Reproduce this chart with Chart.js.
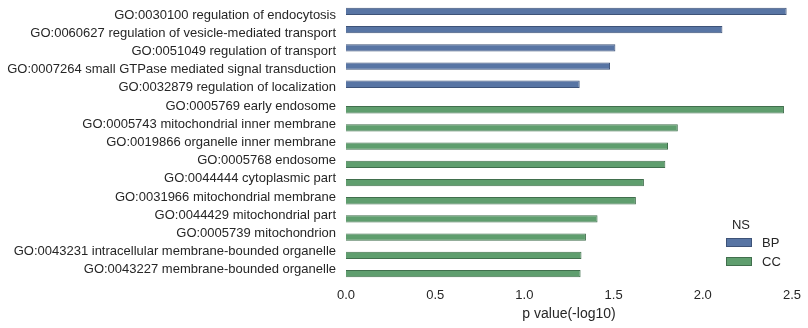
<!DOCTYPE html>
<html>
<head>
<meta charset="utf-8">
<script src="https://cdn.jsdelivr.net/npm/chart.js@4/dist/chart.umd.min.js"></script>
<style>
  html, body { margin: 0; padding: 0; background: #fff; }
  #wrap { width: 808px; height: 328px; }
</style>
</head>
<body>
<div id="wrap"><canvas id="go"></canvas></div>
<script>
// GO terms, top to bottom
const terms = [
    'GO:0030100 regulation of endocytosis',
    'GO:0060627 regulation of vesicle-mediated transport',
    'GO:0051049 regulation of transport',
    'GO:0007264 small GTPase mediated signal transduction',
    'GO:0032879 regulation of localization',
    'GO:0005769 early endosome',
    'GO:0005743 mitochondrial inner membrane',
    'GO:0019866 organelle inner membrane',
    'GO:0005768 endosome',
    'GO:0044444 cytoplasmic part',
    'GO:0031966 mitochondrial membrane',
    'GO:0044429 mitochondrial part',
    'GO:0005739 mitochondrion',
    'GO:0043231 intracellular membrane-bounded organelle',
    'GO:0043227 membrane-bounded organelle'
]

// -log10 p values per namespace (null = term not in that namespace)
const bpValues = [2.47, 2.11, 1.51, 1.48, 1.31, null, null, null, null, null, null, null, null, null, null]
const ccValues = [null, null, null, null, null, 2.455, 1.86, 1.805, 1.79, 1.67, 1.625, 1.41, 1.345, 1.32, 1.315]

const xTicks = [0, 0.5, 1, 1.5, 2, 2.5]

const textColor = '#262626'
const font = "'Liberation Sans', Arial, sans-serif"

// legend drawn inside the plot, bottom right like seaborn
const nsLegend = {
    id: 'nsLegend',
    afterDraw(chart) {
        const ctx = chart.ctx
        ctx.save()
        ctx.fillStyle = textColor
        ctx.font = '13px ' + font
        ctx.textAlign = 'center'
        ctx.textBaseline = 'middle'
        ctx.fillText('NS', 741, 225)
        chart.data.datasets.forEach(function(ds, i) {
            const y = 242 + i * 19
            ctx.fillStyle = ds.backgroundColor
            ctx.fillRect(726, y - 4, 26, 9)
            ctx.strokeStyle = ds.borderColor
            ctx.lineWidth = 1
            ctx.strokeRect(726.5, y - 3.5, 25, 8)
            ctx.fillStyle = textColor
            ctx.textAlign = 'left'
            ctx.fillText(ds.label, 762, y + 1)
        })
        ctx.restore()
    }
}

var go_ctx = document.getElementById('go')
var go = new Chart(go_ctx, {
    type: 'bar',
    data: {
        labels: terms,
        datasets: [{
            label: 'BP',
            data: bpValues,
            backgroundColor: '#5875a4',
            borderColor: '#3e5378',
            borderWidth: 1
        }, {
            label: 'CC',
            data: ccValues,
            backgroundColor: '#5f9e6e',
            borderColor: '#416f4d',
            borderWidth: 1
        }]
    },
    options: {
        indexAxis: 'y',
        responsive: true,
        maintainAspectRatio: false,
        animation: false,
        categoryPercentage: 0.8,
        barPercentage: 1.0,
        layout: {
            padding: { top: 6, right: 16, left: 0, bottom: 0 }
        },
        plugins: {
            legend: { display: false },
            tooltip: { enabled: false }
        },
        scales: {
            x: {
                min: 0,
                max: 2.5,
                afterBuildTicks: function(s) {
                    s.ticks = xTicks.map(function(v) { return { value: v } })
                },
                afterFit: function(s) {
                    s.height = 49
                    s.paddingLeft = 0
                    s.paddingRight = 0
                },
                grid: { display: false, drawTicks: false },
                border: { display: false },
                ticks: {
                    color: textColor,
                    font: { family: font, size: 13 },
                    padding: 9,
                    maxRotation: 0,
                    callback: function(v) { return Number(v).toFixed(1) }
                },
                title: {
                    display: true,
                    text: 'p value(-log10)',
                    color: textColor,
                    font: { family: font, size: 14 },
                    padding: { top: 2, bottom: 5 }
                }
            },
            y: {
                afterFit: function(s) {
                    s.width = 346
                    s.paddingTop = 0
                    s.paddingBottom = 0
                },
                grid: { display: false, drawTicks: false },
                border: { display: false },
                ticks: {
                    color: textColor,
                    font: { family: font, size: 13 },
                    padding: 10,
                    autoSkip: false
                }
            }
        }
    },
    plugins: [nsLegend]
})
</script>
</body>
</html>
